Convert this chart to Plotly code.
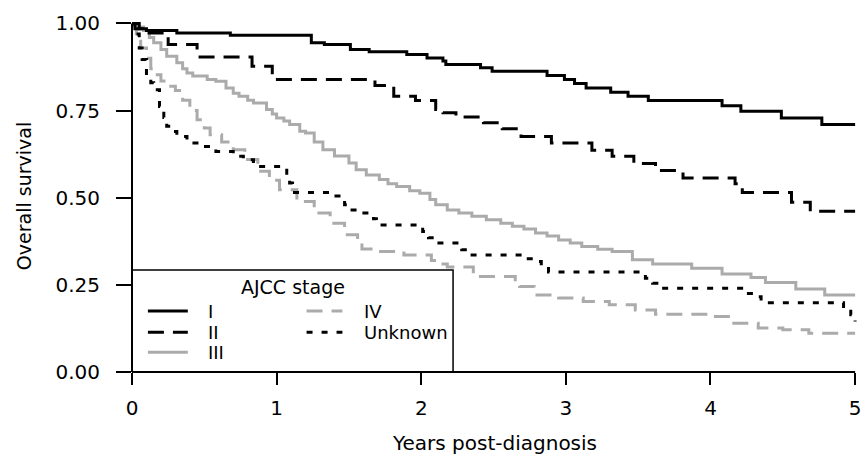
import plotly.graph_objects as go

# ---------------- data ----------------
stage_I_t = [0, 0.05, 0.10, 0.31, 0.68, 1.24, 1.33, 1.51, 1.64, 1.90, 2.04, 2.15, 2.17, 2.41, 2.49,
             2.87, 2.99, 3.06, 3.14, 3.31, 3.43, 3.57, 4.08, 4.21, 4.49, 4.77, 5.0]
stage_I_s = [1.0, 0.985, 0.98, 0.973, 0.966, 0.945, 0.94, 0.925, 0.919, 0.911, 0.901, 0.892, 0.882, 0.873, 0.863,
             0.851, 0.839, 0.828, 0.815, 0.803, 0.791, 0.779, 0.764, 0.748, 0.729, 0.710, 0.710]

stage_II_t = [0, 0.02, 0.07, 0.25, 0.45, 0.83, 0.97, 1.68, 1.81, 1.96, 2.10, 2.15, 2.24, 2.43, 2.56, 2.69,
              2.90, 3.18, 3.32, 3.47, 3.62, 3.81, 4.17, 4.22, 4.56, 4.69, 5.0]
stage_II_s = [1.0, 0.985, 0.973, 0.94, 0.904, 0.877, 0.839, 0.822, 0.791, 0.779, 0.753, 0.744, 0.732, 0.715, 0.698, 0.676,
              0.657, 0.636, 0.619, 0.598, 0.578, 0.557, 0.540, 0.515, 0.487, 0.461, 0.461]

stage_III_t = [0, 0.04, 0.08, 0.12, 0.15, 0.20, 0.24, 0.31, 0.35, 0.38, 0.42, 0.52, 0.58, 0.65, 0.70, 0.74,
               0.80, 0.84, 0.93, 0.97, 1.00, 1.05, 1.09, 1.16, 1.20, 1.26, 1.32, 1.40, 1.50, 1.55, 1.62,
               1.71, 1.77, 1.83, 1.92, 1.99, 2.06, 2.10, 2.18, 2.26, 2.35, 2.45, 2.55, 2.63, 2.71, 2.79,
               2.87, 2.95, 3.03, 3.11, 3.22, 3.32, 3.46, 3.60, 3.87, 4.08, 4.28, 4.38, 4.59, 4.79, 5.0]
stage_III_s = [1.0, 0.99, 0.98, 0.96, 0.945, 0.925, 0.906, 0.887, 0.87, 0.858, 0.849, 0.839, 0.834, 0.815, 0.80, 0.791,
               0.78, 0.772, 0.753, 0.74, 0.729, 0.72, 0.71, 0.691, 0.686, 0.66, 0.638, 0.62, 0.600, 0.580, 0.565,
               0.552, 0.54, 0.532, 0.52, 0.513, 0.495, 0.480, 0.465, 0.456, 0.447, 0.437, 0.427, 0.418, 0.41, 0.399,
               0.39, 0.379, 0.37, 0.360, 0.352, 0.346, 0.322, 0.310, 0.298, 0.281, 0.271, 0.257, 0.238, 0.221, 0.221]

stage_IV_t = [0, 0.03, 0.06, 0.10, 0.13, 0.16, 0.20, 0.25, 0.30, 0.35, 0.40, 0.45, 0.50, 0.54, 0.62, 0.70,
              0.78, 0.87, 0.95, 1.02, 1.14, 1.26, 1.37, 1.47, 1.56, 1.59, 1.70, 1.88, 2.07, 2.12, 2.18,
              2.36, 2.65, 2.68, 2.78, 2.95, 3.12, 3.30, 3.48, 3.62, 3.98, 4.15, 4.33, 4.50, 4.68, 5.0]
stage_IV_s = [1.0, 0.96, 0.93, 0.90, 0.87, 0.853, 0.835, 0.82, 0.808, 0.78, 0.75, 0.724, 0.70, 0.681, 0.66, 0.638,
              0.61, 0.576, 0.55, 0.523, 0.489, 0.456, 0.427, 0.394, 0.37, 0.353, 0.346, 0.336, 0.32, 0.31, 0.301,
              0.274, 0.26, 0.245, 0.221, 0.212, 0.202, 0.193, 0.178, 0.166, 0.159, 0.140, 0.126, 0.121, 0.111, 0.111]

unknown_t = [0, 0.02, 0.03, 0.05, 0.07, 0.10, 0.13, 0.15, 0.19, 0.22, 0.24, 0.28, 0.31, 0.38, 0.47, 0.58,
             0.70, 0.77, 0.84, 1.07, 1.09, 1.11, 1.40, 1.47, 1.50, 1.56, 1.67, 1.69, 2.01, 2.05, 2.10,
             2.28, 2.32, 2.72, 2.79, 2.83, 2.88, 3.55, 3.60, 3.66, 4.25, 4.31, 4.35, 4.92, 4.97, 5.0]
unknown_s = [1.0, 0.985, 0.97, 0.93, 0.897, 0.849, 0.83, 0.81, 0.762, 0.73, 0.705, 0.69, 0.676, 0.657, 0.647, 0.633,
             0.619, 0.609, 0.590, 0.56, 0.542, 0.515, 0.505, 0.48, 0.465, 0.456, 0.44, 0.422, 0.403, 0.385, 0.370,
             0.351, 0.336, 0.325, 0.317, 0.303, 0.287, 0.269, 0.255, 0.240, 0.225, 0.216, 0.199, 0.183, 0.164, 0.145]

series_names = ["I", "II", "III", "IV", "Unknown"]
x_ticks = [0, 1, 2, 3, 4, 5]
y_ticks = [0.0, 0.25, 0.5, 0.75, 1.0]
y_tick_labels = ["0.00", "0.25", "0.50", "0.75", "1.00"]

# ---------------- styles ----------------
BLACK = "#000000"
GRAY = "#ababab"
DASH = "16px,9px"
DOT = "6px,9px"
styles = {
    "I": dict(color=BLACK, dash="solid"),
    "II": dict(color=BLACK, dash=DASH),
    "III": dict(color=GRAY, dash="solid"),
    "IV": dict(color=GRAY, dash=DASH),
    "Unknown": dict(color=BLACK, dash=DOT),
}
data = {
    "I": (stage_I_t, stage_I_s),
    "II": (stage_II_t, stage_II_s),
    "III": (stage_III_t, stage_III_s),
    "IV": (stage_IV_t, stage_IV_s),
    "Unknown": (unknown_t, unknown_s),
}

FONT = "DejaVu Sans"
fig = go.Figure()
for name in ["III", "IV", "I", "II", "Unknown"]:
    t, s = data[name]
    st = styles[name]
    fig.add_trace(go.Scatter(
        x=t, y=s, mode="lines", name=name, showlegend=False,
        line=dict(shape="hv", width=3, color=st["color"], dash=st["dash"]),
        hoverinfo="skip",
    ))

XMAX = 5.02
YMAX = 1.01

# axis lines (exact data extent)
fig.add_shape(type="line", xref="x domain", yref="y domain", x0=0, x1=0, y0=0, y1=1 / YMAX,
              line=dict(color=BLACK, width=2))
fig.add_shape(type="line", xref="x domain", yref="y domain", x0=0, x1=5 / XMAX, y0=0, y1=0,
              line=dict(color=BLACK, width=2))

# custom legend (box, title, samples, labels)
fig.add_shape(type="rect", xref="x", yref="y", x0=0, x1=2.22, y0=0, y1=0.293,
              line=dict(color=BLACK, width=1.5), fillcolor="rgba(255,255,255,0)")
fig.add_annotation(x=1.114, y=0.245, xref="x", yref="y", text="AJCC stage", showarrow=False,
                   font=dict(family=FONT, size=19, color=BLACK), xanchor="center", yanchor="middle")
leg_layout = [
    ("I", 0.11, 0.386, 0.51, 0.175),
    ("II", 0.11, 0.386, 0.51, 0.114),
    ("III", 0.11, 0.386, 0.51, 0.057),
    ("IV", 1.207, 1.455, 1.593, 0.175),
    ("Unknown", 1.207, 1.455, 1.593, 0.114),
]
for name, lx0, lx1, tx, ly in leg_layout:
    st = styles[name]
    fig.add_shape(type="line", xref="x", yref="y", x0=lx0, x1=lx1, y0=ly, y1=ly,
                  line=dict(color=st["color"], width=3, dash=st["dash"]))
    fig.add_annotation(x=tx, y=ly, xref="x", yref="y", text=name, showarrow=False,
                       font=dict(family=FONT, size=18, color=BLACK), xanchor="left", yanchor="middle")

fig.update_layout(
    width=862, height=456,
    margin=dict(l=132, r=1, t=20, b=84),
    paper_bgcolor="white", plot_bgcolor="white",
    font=dict(family=FONT, size=20, color=BLACK),
    showlegend=False,
)
fig.update_xaxes(
    range=[0, XMAX], tickvals=x_ticks, ticktext=[str(v) for v in x_ticks],
    showgrid=False, zeroline=False, showline=False,
    ticks="outside", ticklen=12, tickwidth=2, tickcolor=BLACK,
    tickfont=dict(family=FONT, size=20, color=BLACK), ticklabelstandoff=6,
    ticklabeloverflow="allow",
    title=dict(text="Years post-diagnosis", font=dict(family=FONT, size=20, color=BLACK), standoff=16),
)
fig.update_yaxes(
    range=[0, YMAX], tickvals=y_ticks, ticktext=y_tick_labels,
    showgrid=False, zeroline=False, showline=False,
    ticks="outside", ticklen=15, tickwidth=2, tickcolor=BLACK,
    tickfont=dict(family=FONT, size=20, color=BLACK), ticklabelstandoff=12,
    title=dict(text="Overall survival", font=dict(family=FONT, size=19, color=BLACK), standoff=18),
)

fig.write_html("out.html", config={"displayModeBar": False},
               post_script="document.body.style.margin='0px';")
